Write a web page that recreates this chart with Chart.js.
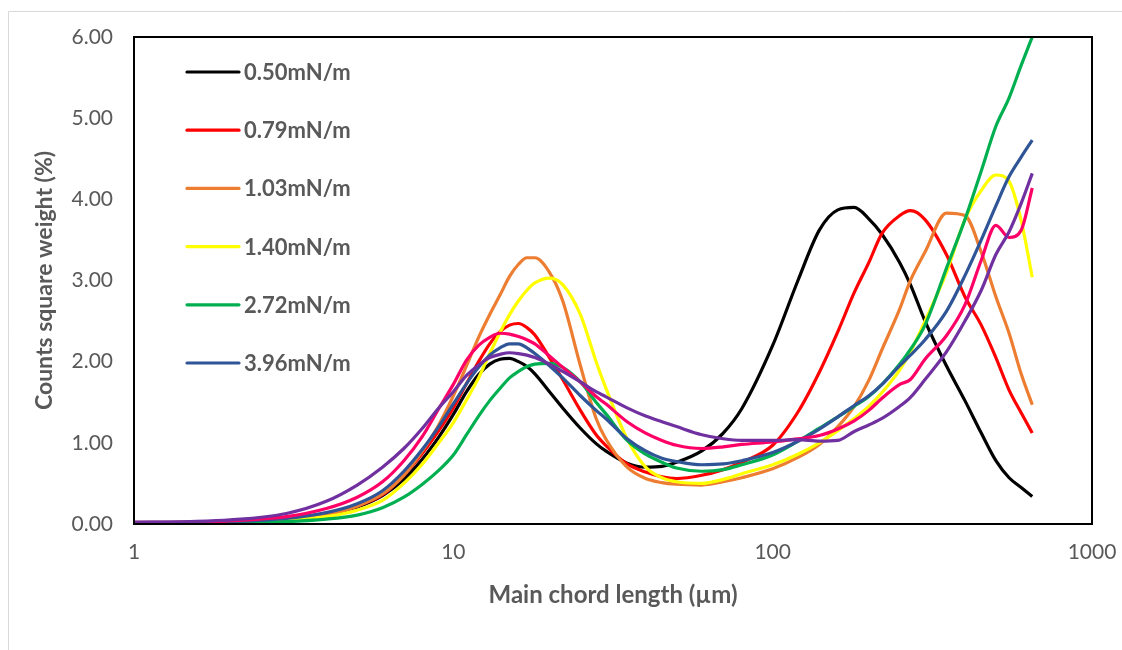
<!DOCTYPE html>
<html>
<head>
<meta charset="utf-8">
<script src="https://cdn.jsdelivr.net/npm/chart.js@4.4.1/dist/chart.umd.min.js"></script>
<style>
  html, body { margin: 0; padding: 0; background: #fff; }
  #wrap { width: 1122px; height: 650px; position: relative; }
</style>
</head>
<body>
<div id="wrap"><canvas id="chart" width="1122" height="650"></canvas></div>
<script>
// Main chord length (µm), shared by all series
const chordLength = [1, 1.5, 2, 3, 4, 5, 6, 7, 8, 9, 10, 11, 12, 13, 14, 15, 16, 17, 18, 20, 22, 25, 28, 30, 35, 40, 45, 50, 60, 70, 80, 100, 120, 140, 160, 180, 200, 220, 250, 270, 300, 350, 400, 450, 500, 550, 600, 650];

const seriesLabels = ['0.50mN/m', '0.79mN/m', '1.03mN/m', '1.40mN/m', '2.72mN/m', '3.96mN/m', '', ''];
const seriesColors = ['#000000', '#ff0000', '#ed7d31', '#ffff00', '#00b050', '#2f5597', '#ff0066', '#7030a0'];

const s050 = [0.01, 0.02, 0.03, 0.06, 0.12, 0.21, 0.35, 0.55, 0.8, 1.07, 1.35, 1.63, 1.84, 1.97, 2.03, 2.04, 2.0, 1.94, 1.85, 1.63, 1.43, 1.18, 0.99, 0.9, 0.75, 0.7, 0.71, 0.76, 0.9, 1.12, 1.42, 2.2, 3.0, 3.62, 3.87, 3.9, 3.76, 3.57, 3.22, 2.95, 2.5, 1.95, 1.52, 1.12, 0.78, 0.57, 0.45, 0.34];
const s079 = [0.01, 0.02, 0.03, 0.06, 0.12, 0.22, 0.36, 0.6, 0.87, 1.15, 1.43, 1.73, 2.0, 2.22, 2.37, 2.45, 2.47, 2.42, 2.33, 2.05, 1.78, 1.4, 1.1, 0.97, 0.74, 0.64, 0.58, 0.56, 0.6, 0.67, 0.76, 0.97, 1.38, 1.87, 2.37, 2.85, 3.22, 3.58, 3.8, 3.86, 3.75, 3.32, 2.8, 2.45, 2.05, 1.65, 1.37, 1.12];
const s103 = [0.01, 0.02, 0.03, 0.06, 0.12, 0.22, 0.37, 0.6, 0.9, 1.22, 1.58, 1.95, 2.3, 2.58, 2.82, 3.05, 3.2, 3.28, 3.28, 3.1, 2.75, 1.95, 1.3, 1.05, 0.7, 0.56, 0.51, 0.49, 0.48, 0.52, 0.57, 0.68, 0.82, 0.98, 1.2, 1.45, 1.77, 2.15, 2.65, 3.0, 3.35, 3.83, 3.8, 3.35, 2.8, 2.35, 1.85, 1.47];
const s140 = [0.01, 0.01, 0.02, 0.05, 0.09, 0.17, 0.29, 0.5, 0.74, 1.0, 1.25, 1.53, 1.8, 2.1, 2.36, 2.58, 2.75, 2.88, 2.97, 3.03, 2.95, 2.58, 2.0, 1.68, 1.05, 0.7, 0.57, 0.52, 0.5, 0.55, 0.62, 0.73, 0.86, 1.0, 1.15, 1.3, 1.45, 1.62, 1.9, 2.12, 2.5, 3.1, 3.75, 4.11, 4.3, 4.22, 3.74, 3.04];
const s272 = [0.01, 0.01, 0.02, 0.03, 0.06, 0.11, 0.2, 0.33, 0.49, 0.66, 0.85, 1.1, 1.33, 1.52, 1.67, 1.8, 1.88, 1.94, 1.97, 1.98, 1.93, 1.75, 1.5, 1.36, 1.03, 0.86, 0.76, 0.69, 0.65, 0.67, 0.73, 0.85, 1.02, 1.18, 1.32, 1.45, 1.57, 1.72, 1.97, 2.15, 2.45, 3.15, 3.75, 4.35, 4.9, 5.25, 5.65, 6.0];
const s396 = [0.02, 0.02, 0.03, 0.07, 0.14, 0.25, 0.41, 0.65, 0.92, 1.2, 1.48, 1.73, 1.93, 2.08, 2.17, 2.22, 2.22, 2.17, 2.1, 1.95, 1.8, 1.58, 1.4, 1.3, 1.05, 0.9, 0.81, 0.77, 0.73, 0.74, 0.78, 0.88, 1.02, 1.17, 1.32, 1.46, 1.58, 1.72, 1.95, 2.08, 2.27, 2.62, 3.06, 3.5, 3.92, 4.28, 4.52, 4.73];
const sPink = [0.02, 0.02, 0.04, 0.09, 0.19, 0.33, 0.52, 0.78, 1.08, 1.42, 1.72, 2.02, 2.2, 2.3, 2.35, 2.34, 2.31, 2.27, 2.22, 2.07, 1.93, 1.75, 1.57, 1.48, 1.26, 1.12, 1.03, 0.97, 0.93, 0.95, 0.98, 1.01, 1.05, 1.09, 1.17, 1.27, 1.4, 1.55, 1.72, 1.78, 2.03, 2.32, 2.7, 3.25, 3.68, 3.53, 3.62, 4.14];
const sPurple = [0.02, 0.03, 0.05, 0.13, 0.28, 0.48, 0.7, 0.93, 1.18, 1.43, 1.63, 1.83, 1.96, 2.05, 2.09, 2.11, 2.1, 2.08, 2.05, 1.97, 1.88, 1.75, 1.63, 1.57, 1.43, 1.33, 1.26, 1.2, 1.1, 1.05, 1.03, 1.03, 1.04, 1.02, 1.03, 1.14, 1.22, 1.3, 1.45, 1.56, 1.78, 2.12, 2.5, 2.88, 3.32, 3.6, 3.95, 4.32];

const allSeries = [s050, s079, s103, s140, s272, s396, sPink, sPurple];

const xTicks = [1, 10, 100, 1000];
const yTicks = [0, 1, 2, 3, 4, 5, 6];

const textGrey = '#595959';
const baseFont = 'Lato, "Open Sans", sans-serif';

const datasets = allSeries.map(function(vals, i) {
    return {
        label: seriesLabels[i],
        data: vals.map(function(v, j) { return { x: chordLength[j], y: v }; }),
        borderColor: seriesColors[i],
        backgroundColor: seriesColors[i],
        borderWidth: 3.2,
        pointRadius: 0,
        cubicInterpolationMode: 'monotone',
        fill: false,
        order: allSeries.length - i
    };
});

// frame of the chart area and the plot box
const framePlugin = {
    id: 'frame',
    beforeDraw: function(chart) {
        const ctx = chart.ctx;
        ctx.save();
        ctx.strokeStyle = '#d9d9d9';
        ctx.lineWidth = 1;
        ctx.beginPath();
        ctx.moveTo(8.5, 650);
        ctx.lineTo(8.5, 11.5);
        ctx.lineTo(1122, 11.5);
        ctx.stroke();
        ctx.restore();
    },
    afterDraw: function(chart) {
        const a = chart.chartArea;
        const ctx = chart.ctx;
        ctx.save();
        ctx.strokeStyle = '#000000';
        ctx.lineWidth = 2;
        ctx.strokeRect(a.left, a.top, a.right - a.left, a.bottom - a.top);
        ctx.restore();
    }
};

// legend drawn inside the plot, top left
const insideLegend = {
    id: 'insideLegend',
    afterDraw: function(chart) {
        const ctx = chart.ctx;
        ctx.save();
        ctx.font = 'bold 22px ' + baseFont;
        ctx.textBaseline = 'middle';
        ctx.lineCap = 'round';
        let row = 0;
        seriesLabels.forEach(function(lab, i) {
            if (!lab) return;
            const y = 72 + row * 58.2;
            ctx.strokeStyle = seriesColors[i];
            ctx.lineWidth = 3.2;
            ctx.beginPath();
            ctx.moveTo(187, y);
            ctx.lineTo(239, y);
            ctx.stroke();
            ctx.fillStyle = textGrey;
            ctx.fillText(lab, 244, y + 1);
            row++;
        });
        ctx.restore();
    }
};

new Chart(document.getElementById('chart'), {
    type: 'line',
    data: { datasets: datasets },
    options: {
        responsive: false,
        animation: false,
        layout: { padding: { left: 0, top: 37, right: 30, bottom: 0 } },
        plugins: {
            legend: { display: false },
            tooltip: { enabled: false }
        },
        scales: {
            x: {
                type: 'logarithmic',
                min: 1,
                max: 1000,
                afterBuildTicks: function(scale) {
                    scale.ticks = xTicks.map(function(v) { return { value: v }; });
                },
                afterFit: function(scale) {
                    scale.height = 126;
                    scale.paddingLeft = 0;
                    scale.paddingRight = 0;
                },
                grid: { display: false, drawTicks: false },
                border: { display: false },
                ticks: {
                    color: textGrey,
                    font: { family: baseFont, size: 21 },
                    padding: 16,
                    maxRotation: 0,
                    callback: function(v) { return String(v); }
                },
                title: {
                    display: true,
                    text: 'Main chord length (µm)',
                    color: textGrey,
                    font: { family: baseFont, size: 24, weight: 'bold' },
                    padding: { top: 0, bottom: 40 }
                }
            },
            y: {
                min: 0,
                max: 6,
                afterBuildTicks: function(scale) {
                    scale.ticks = yTicks.map(function(v) { return { value: v }; });
                },
                afterFit: function(scale) { scale.width = 134; },
                grid: { display: false, drawTicks: false },
                border: { display: false },
                ticks: {
                    color: textGrey,
                    font: { family: baseFont, size: 21 },
                    padding: 21,
                    callback: function(v) { return Number(v).toFixed(2); }
                },
                title: {
                    display: true,
                    text: 'Counts square weight (%)',
                    color: textGrey,
                    font: { family: baseFont, size: 23, weight: 'bold' },
                    padding: { top: 31, bottom: 0 }
                }
            }
        }
    },
    plugins: [framePlugin, insideLegend]
});
</script>
</body>
</html>
